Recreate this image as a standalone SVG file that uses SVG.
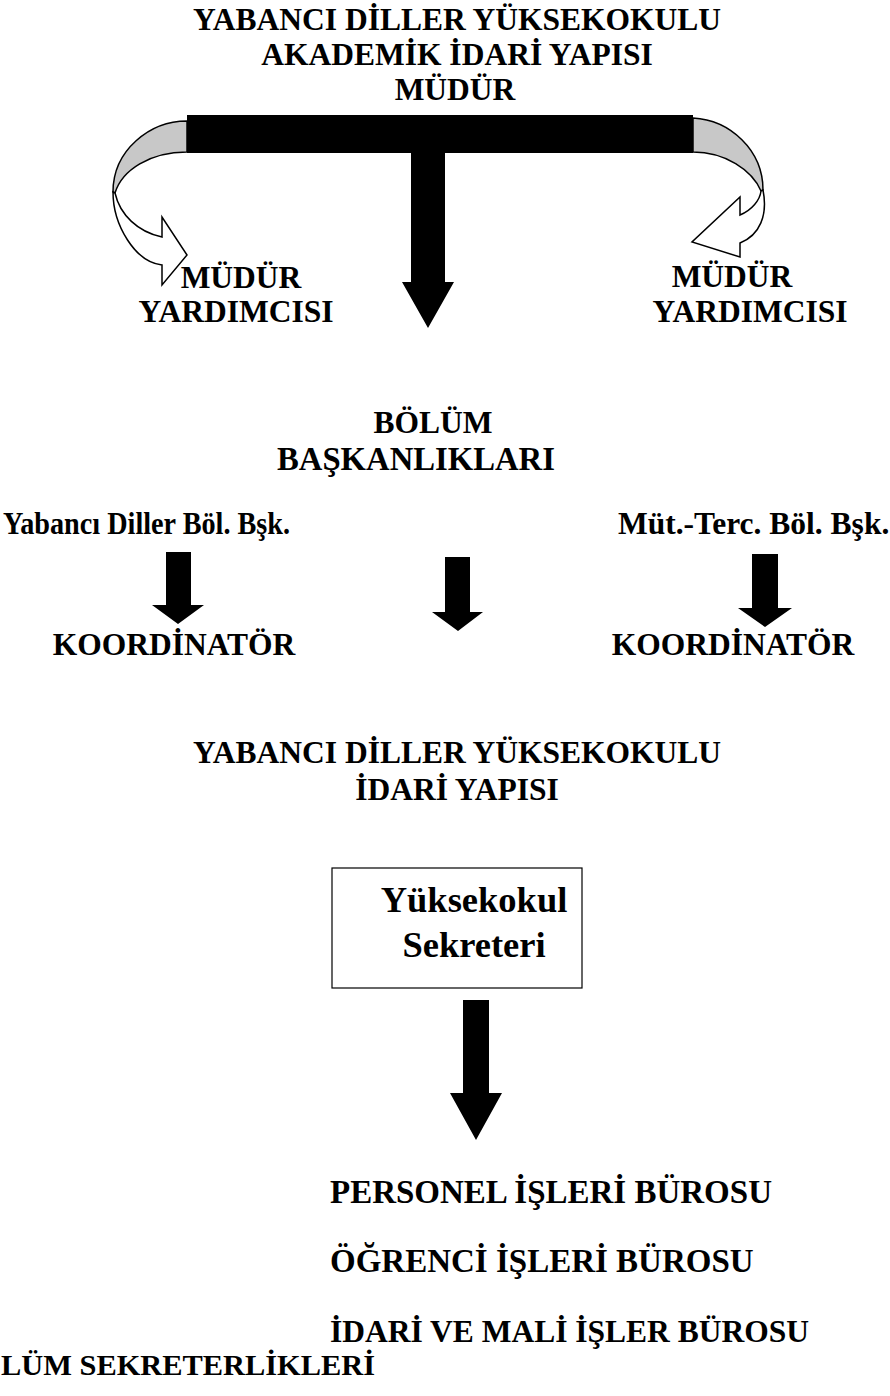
<svg xmlns="http://www.w3.org/2000/svg" width="890" height="1396" viewBox="0 0 890 1396">
<style>
.t{font-family:"Liberation Serif","Times New Roman",serif;font-weight:bold;font-size:31.5px;fill:#000}
.c{text-anchor:middle}
.blk{fill:#000}
.band{fill:#c8c8c8;stroke:#000;stroke-width:1.5;stroke-linejoin:round}
.front{fill:#fff;stroke:#000;stroke-width:1.5;stroke-linejoin:miter}
</style>
<rect width="890" height="1396" fill="#fff"/>
<g id="title-akademik">
<text class="t c" x="457" y="30">YABANCI DİLLER YÜKSEKOKULU</text>
<text class="t c" x="457" y="65">AKADEMİK İDARİ YAPISI</text>
</g>
<g id="mudur">
<text class="t c" x="455" y="100">MÜDÜR</text>
</g>
<g id="mudur-yrd-left">
<text class="t c" x="241" y="288">MÜDÜR</text>
<text class="t c" x="236" y="322">YARDIMCISI</text>
</g>
<g id="mudur-yrd-right">
<text class="t c" x="732" y="287">MÜDÜR</text>
<text class="t c" x="750" y="322">YARDIMCISI</text>
</g>
<g id="bolum-baskanliklari">
<text class="t c" x="433" y="433">BÖLÜM</text>
<text class="t c" x="416" y="470" style="font-size:32.7px">BAŞKANLIKLARI</text>
</g>
<g id="yd-bolum">
<text class="t" x="3" y="534" textLength="287" lengthAdjust="spacingAndGlyphs">Yabancı Diller Böl. Bşk.</text>
</g>
<g id="mt-bolum">
<text class="t" x="618" y="534">Müt.-Terc. Böl. Bşk.</text>
</g>
<g id="koordinator-left">
<text class="t c" x="174" y="655">KOORDİNATÖR</text>
</g>
<g id="koordinator-right">
<text class="t c" x="733" y="655">KOORDİNATÖR</text>
</g>
<g id="title-idari">
<text class="t c" x="457" y="763">YABANCI DİLLER YÜKSEKOKULU</text>
<text class="t c" x="457" y="800">İDARİ YAPISI</text>
</g>
<g id="sekreter">
<rect x="332" y="868" width="250" height="120" fill="#fff" stroke="#000" stroke-width="1.2"/>
<text class="t c" x="474" y="912" style="font-size:36.5px">Yüksekokul</text>
<text class="t c" x="474" y="957" style="font-size:36.5px">Sekreteri</text>
</g>
<g id="personel">
<text class="t" x="330" y="1203" style="font-size:33px">PERSONEL İŞLERİ BÜROSU</text>
</g>
<g id="ogrenci">
<text class="t" x="330" y="1272" style="font-size:33px">ÖĞRENCİ İŞLERİ BÜROSU</text>
</g>
<g id="idari-mali">
<text class="t" x="330" y="1342">İDARİ VE MALİ İŞLER BÜROSU</text>
</g>
<g id="bolum-sekreterlikleri">
<text class="t" x="1" y="1375" style="font-size:30.4px">LÜM SEKRETERLİKLERİ</text>
</g>
<g id="connectors">
<rect class="blk" x="187" y="115" width="506" height="38"/>
<path class="blk" d="M411,152 L445,152 L445,282 L454,282 L428,328 L402,282 L411,282 Z"/>
<path class="band" d="M187,121 C150,121 113,150 113,192 L115,193 C122,170 150,152 187,152 Z"/>
<path class="front" d="M113,192 C113,225 135,262 162,265 L162,285 L187,255 L162,217 L162,237 C138,232 120,215 115,193 Z"/>
<path class="band" d="M693,118 C730,120 763,150 763,190 L761,191 C752,170 725,152 693,152 Z"/>
<path class="front" d="M763,190 C768,215 760,235 740,243 L740,257 L692,242 L740,197 L740,215 C752,210 760,200 761,191 Z"/>
<path class="blk" d="M166,552 L191,552 L191,605 L204,605 L178,624 L152,605 L166,605 Z"/>
<path class="blk" d="M445,557 L470,557 L470,612 L483,612 L458,631 L432,612 L445,612 Z"/>
<path class="blk" d="M752,554 L778,554 L778,608 L792,608 L765,627 L738,608 L752,608 Z"/>
<path class="blk" d="M463,1000 L489,1000 L489,1093 L502,1093 L476,1140 L450,1093 L463,1093 Z"/>
</g>
</svg>
